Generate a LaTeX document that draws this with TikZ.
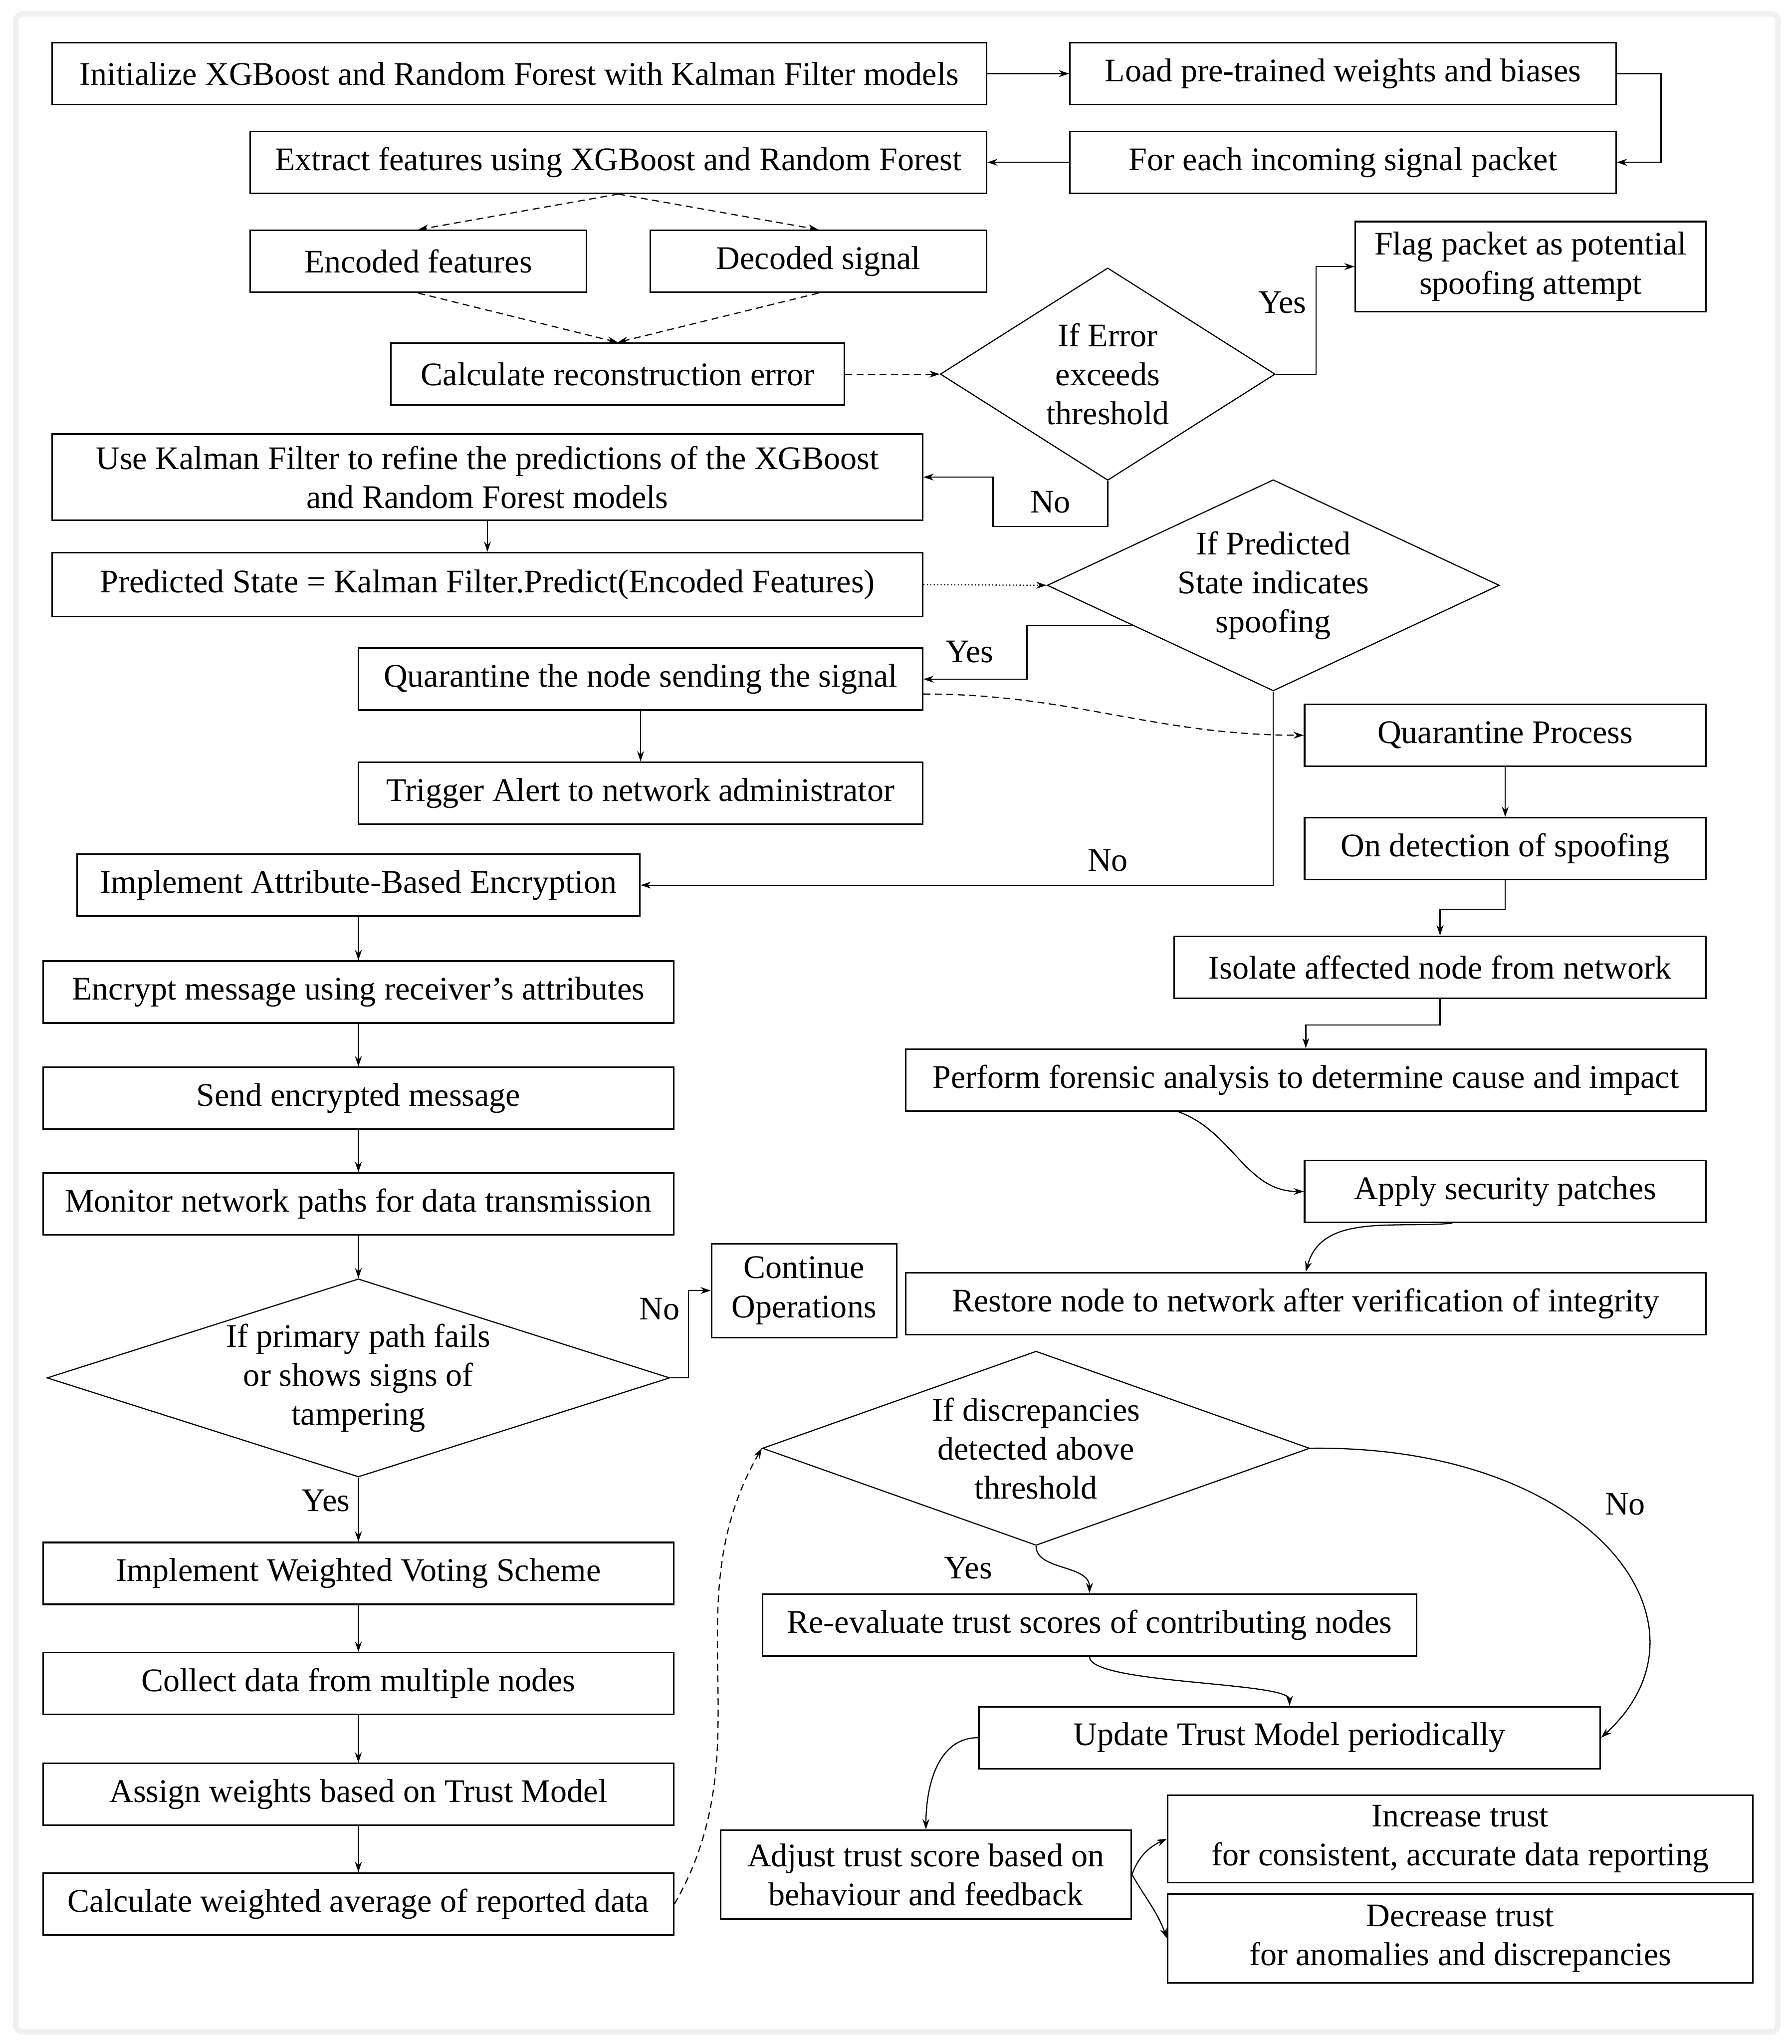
\documentclass[tikz,border=0pt]{standalone}
\usepackage{fontspec}
\setmainfont{Liberation Serif}
\usetikzlibrary{shapes.geometric, arrows.meta}

\begin{document}
\begin{tikzpicture}[x=0.02cm, y=0.02cm,
    box/.style={draw, line width=0.7pt, minimum height=0.95cm, inner sep=2pt,
        align=center, font=\fontsize{14.4}{17}\selectfont},
    decision/.style={draw, diamond, line width=0.5pt, inner sep=0pt},
    lbl/.style={font=\fontsize{14.4}{17}\selectfont},
    arr/.style={-{Stealth[length=4.5pt, width=3pt]}, line width=0.5pt}]
    \useasboundingbox (0,0) rectangle (1375,-1568);
    % Frame
    \draw[gray!12, line width=2.4pt, rounded corners=3pt] (12.2,-10.7) rectangle (1364.4,-1558.7);
    % Detection part
    \node[box, minimum width=14.34cm] (init) at (398.5,-56.5) {Initialize XGBoost and Random Forest with Kalman Filter models};
    \node[box, minimum width=8.38cm] (load) at (1030.5,-56.5) {Load pre-trained weights and biases};
    \node[box, minimum width=8.38cm] (packet) at (1030.5,-124.5) {For each incoming signal packet};
    \node[box, minimum width=11.3cm] (extract) at (474.5,-124.5) {Extract features using XGBoost and Random Forest};
    \node[box, minimum width=5.16cm] (encoded) at (321,-200.5) {Encoded features};
    \node[box, minimum width=5.16cm] (decoded) at (628,-200.5) {Decoded signal};
    \node[box, minimum width=6.96cm] (recon) at (474,-287) {Calculate reconstruction error};
    \node[decision, minimum width=5.14cm, minimum height=3.26cm,
        label={[lbl, align=center]center:If Error\\exceeds\\threshold}] (errchk) at (850,-287) {};
    \node[box, minimum width=5.38cm, minimum height=1.38cm] (flag) at (1174.5,-204.5) {Flag packet as potential\\spoofing attempt};
    \node[box, minimum width=13.36cm, minimum height=1.32cm] (refine) at (374,-366) {Use Kalman Filter to refine the predictions of the XGBoost\\and Random Forest models};
    \node[box, minimum width=13.36cm, minimum height=0.98cm] (predict) at (374,-448.5) {Predicted State = Kalman Filter.Predict(Encoded Features)};
    \node[decision, minimum width=6.94cm, minimum height=3.24cm,
        label={[lbl, align=center]center:If Predicted\\State indicates\\spoofing}] (spoofchk) at (977,-449) {};
    \node[box, minimum width=8.66cm] (quarantine) at (491.5,-521) {Quarantine the node sending the signal};
    \node[box, minimum width=8.66cm] (alert) at (491.5,-608.5) {Trigger Alert to network administrator};
    % Quarantine process
    \node[box, minimum width=6.16cm] (qproc) at (1155,-564) {Quarantine Process};
    \node[box, minimum width=6.16cm] (detect) at (1155,-651) {On detection of spoofing};
    \node[box, minimum width=8.16cm] (isolate) at (1105,-742) {Isolate affected node from network};
    \node[box, minimum width=12.28cm] (forensic) at (1002,-828.5) {Perform forensic analysis to determine cause and impact};
    \node[box, minimum width=6.16cm] (patch) at (1155,-914) {Apply security patches};
    \node[box, minimum width=12.28cm] (restore) at (1002,-1000) {Restore node to network after verification of integrity};
    % Encryption and path monitoring
    \node[box, minimum width=8.64cm] (abe) at (275,-679) {Implement Attribute-Based Encryption};
    \node[box, minimum width=9.68cm] (encrypt) at (275,-761) {Encrypt message using receiver’s attributes};
    \node[box, minimum width=9.68cm] (send) at (275,-842.5) {Send encrypted message};
    \node[box, minimum width=9.68cm] (monitor) at (275,-923.5) {Monitor network paths for data transmission};
    \node[box, minimum width=2.84cm, minimum height=1.44cm] (carryon) at (617,-990) {Continue\\Operations};
    \node[decision, minimum width=9.56cm, minimum height=3.04cm,
        label={[lbl, align=center]center:If primary path fails\\or shows signs of\\tampering}] (pathchk) at (275,-1057) {};
    % Weighted voting
    \node[box, minimum width=9.68cm] (voting) at (275,-1207) {Implement Weighted Voting Scheme};
    \node[box, minimum width=9.68cm] (collect) at (275,-1291.5) {Collect data from multiple nodes};
    \node[box, minimum width=9.68cm] (weights) at (275,-1376.5) {Assign weights based on Trust Model};
    \node[box, minimum width=9.68cm] (average) at (275,-1460.5) {Calculate weighted average of reported data};
    % Trust model
    \node[decision, minimum width=8.4cm, minimum height=2.98cm,
        label={[lbl, align=center]center:If discrepancies\\detected above\\threshold}] (discchk) at (795,-1111) {};
    \node[box, minimum width=10.04cm] (reeval) at (836,-1246.5) {Re-evaluate trust scores of contributing nodes};
    \node[box, minimum width=9.54cm] (update) at (989.5,-1333) {Update Trust Model periodically};
    \node[box, minimum width=6.3cm, minimum height=1.36cm] (adjust) at (710.5,-1438) {Adjust trust score based on\\behaviour and feedback};
    \node[box, minimum width=8.98cm, minimum height=1.34cm] (increase) at (1120.5,-1410.5) {Increase trust\\for consistent, accurate data reporting};
    \node[box, minimum width=8.98cm, minimum height=1.36cm] (decrease) at (1120.5,-1487) {Decrease trust\\for anomalies and discrepancies};
    % Yes / No labels
    \node[lbl] (yes1) at (984,-232) {Yes};
    \node[lbl] (no1) at (806,-385) {No};
    \node[lbl] (yes2) at (744,-500) {Yes};
    \node[lbl] (no2) at (850,-660) {No};
    \node[lbl] (no3) at (506,-1004) {No};
    \node[lbl] (yes3) at (250,-1151) {Yes};
    \node[lbl] (yes4) at (743,-1203) {Yes};
    \node[lbl] (no4) at (1247,-1154) {No};
    % Connectors, top part
    \draw[arr] (init.east) -- (load.west);
    \draw[arr] (load.east) -- ++(34,0) |- (packet.east);
    \draw[arr] (packet.west) -- (extract.east);
    \draw[arr, densely dashed] (extract.south) -- (encoded.north);
    \draw[arr, densely dashed] (extract.south) -- (decoded.north);
    \draw[arr, densely dashed] (encoded.south) -- (recon.north);
    \draw[arr, densely dashed] (decoded.south) -- (recon.north);
    \draw[arr, densely dashed] (recon.east) -- (errchk.west);
    \draw[arr] (errchk.east) -- ++(31,0) |- (flag.west);
    \draw[arr] (errchk.south) -- ++(0,-35) -| (762,-366) -- (refine.east);
    \draw[arr] (refine.south) -- (predict.north);
    \draw[arr, densely dotted] (predict.east) -- (spoofchk.west);
    \draw[arr] (spoofchk.196) -| (788,-521) -- (quarantine.east);
    \draw[arr, densely dashed] (quarantine.-3) to[out=0, in=180] (qproc.west);
    \draw[arr] (quarantine.south) -- (alert.north);
    \draw[arr] (spoofchk.south) |- (abe.east);
    % Connectors, quarantine process
    \draw[arr] (qproc.south) -- (detect.north);
    \draw[arr] (detect.south) -- ++(0,-22) -| (isolate.north);
    \draw[arr] (isolate.south) -- ++(0,-20) -| (forensic.north);
    \draw[arr] (forensic.194) to[out=-20, in=180] (patch.west);
    \draw[arr] (patch.211) to[out=185, in=75] (restore.north);
    % Connectors, left column
    \draw[arr] (abe.south) -- (encrypt.north);
    \draw[arr] (encrypt.south) -- (send.north);
    \draw[arr] (send.south) -- (monitor.north);
    \draw[arr] (monitor.south) -- (pathchk.north);
    \draw[arr] (pathchk.east) -- ++(14,0) |- (carryon.west);
    \draw[arr] (pathchk.south) -- (voting.north);
    \draw[arr] (voting.south) -- (collect.north);
    \draw[arr] (collect.south) -- (weights.north);
    \draw[arr] (weights.south) -- (average.north);
    \draw[arr, densely dashed] (average.east) to[out=60, in=240] (discchk.west);
    % Connectors, trust model
    \draw[arr] (discchk.south) .. controls (795,-1205) and (836,-1200) .. (reeval.north);
    \draw[arr] (discchk.east) .. controls (1220,-1108) and (1325,-1245) .. (update.east);
    \draw[arr] (reeval.south) .. controls (836,-1292) and (989.5,-1290) .. (update.north);
    \draw[arr] (update.west) to[out=180, in=90] (adjust.north);
    \draw[arr] (adjust.east) to[out=70, in=205] (increase.west);
    \draw[arr] (adjust.east) to[out=-60, in=110] (decrease.west);
\end{tikzpicture}
\end{document}
